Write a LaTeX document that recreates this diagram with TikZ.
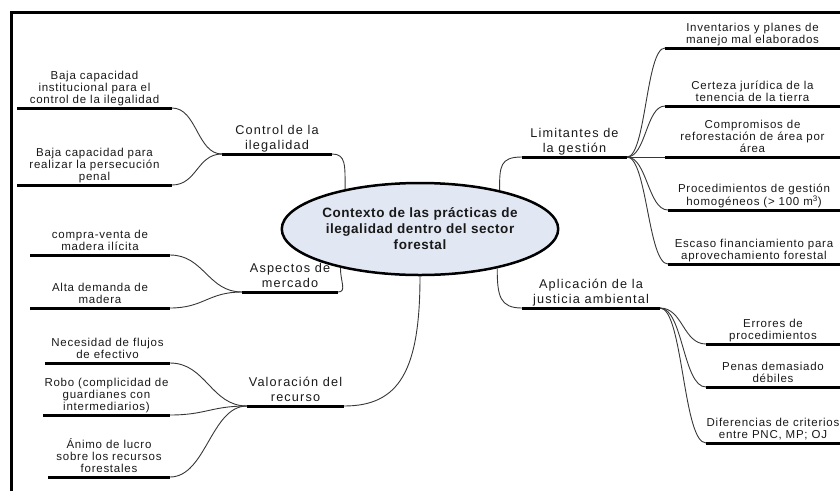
\documentclass[tikz,border=0pt]{standalone}
\usepackage{fontspec}
\setmainfont{Liberation Sans}[LetterSpace=9]
\newfontfamily\leaffont{Liberation Sans}[LetterSpace=6.5]
\newfontfamily\hubfont{Liberation Sans}[LetterSpace=4]
\usetikzlibrary{shapes.geometric}

\definecolor{hubfill}{RGB}{226,231,244}
\definecolor{ink}{RGB}{25,25,25}
\definecolor{wirecol}{RGB}{55,55,55}

\tikzset{
  lbl/.style={align=center, font=\leaffont\fontsize{11.5}{12}\selectfont, text=ink,
    inner xsep=0pt, inner ysep=0pt, anchor=south,
    execute at end node={\vphantom{gjp}}},
  lblmain/.style={lbl, font=\fontsize{12.7}{14.5}\selectfont},
  bar/.style={line width=3pt, black},
  wire/.style={draw=wirecol, line width=0.9pt},
  hub/.style={ellipse, draw=black, line width=2.5pt, fill=hubfill,
    minimum width=236pt, minimum height=92pt, inner sep=0pt, align=center,
    text=ink, font=\hubfont\bfseries\fontsize{13.5}{16}\selectfont},
}

% \branch[style]{name}{x left}{x right}{y of bar}{label}
\newcommand{\branch}[6][lbl]{%
  \coordinate (#2-l) at (#3,#5);
  \coordinate (#2-r) at (#4,#5);
  \node[#1] (#2) at ({(#3+#4)/2},{#5-2}) {#6};
  \draw[bar] (#2-l) -- (#2-r);
}

\begin{document}
\begin{tikzpicture}[x=1pt,y=-1pt]
\useasboundingbox (0,0) rectangle (840,491);

% frame
\draw[line width=2.8pt] (11.5,491) -- (11.5,12.5) -- (840,12.5);

% central topic
\node[hub] (hub) at (420,229) {Contexto de las prácticas de\\ilegalidad dentro del sector\\forestal};

% main branches
\branch[lblmain]{ctl}{222}{332}{154}{Control de la\\ilegalidad}
\branch[lblmain]{asp}{242}{338}{292}{Aspectos de\\mercado}
\branch[lblmain]{val}{247}{344}{406}{Valoración del\\recurso}
\branch[lblmain]{lim}{522}{627}{157}{Limitantes de\\la gestión}
\branch[lblmain]{apl}{522}{660}{308}{Aplicación de la\\justicia ambiental}

% left leaves
\branch{bc1}{17}{172}{108}{Baja capacidad\\institucional para el\\control de la ilegalidad}
\branch{bc2}{17}{172}{185}{Baja capacidad para\\realizar la persecución\\penal}
\branch{cvm}{30}{170}{255}{compra-venta de\\madera ilícita}
\branch{adm}{30}{170}{308}{Alta demanda de\\madera}
\branch{nfe}{45}{170}{363}{Necesidad de flujos\\de efectivo}
\branch{rob}{43}{170}{415}{Robo (complicidad de\\guardianes con\\intermediarios)}
\branch{ani}{48}{170}{477}{Ánimo de lucro\\sobre los recursos\\forestales}

% right leaves
\branch{inv}{665}{840}{48}{Inventarios y planes de\\manejo mal elaborados}
\branch{cer}{665}{840}{106}{Certeza jurídica de la\\tenencia de la tierra}
\branch{com}{665}{840}{157}{Compromisos de\\reforestación de área por\\área}
\branch{pro}{668}{840}{210}{Procedimientos de gestión\\homogéneos (> 100 m\textsuperscript{3})}
\branch{esc}{668}{840}{264}{Escaso financiamiento para\\aprovechamiento forestal}
\branch{err}{706}{840}{344}{Errores de\\procedimientos}
\branch{pen}{706}{840}{387}{Penas demasiado\\débiles}
\branch{dif}{706}{840}{443}{Diferencias de criterios\\entre PNC, MP; OJ}

% hub to main branches
\draw[wire] (ctl-r) .. controls +(14,0) and +(0,-24) .. (hub.152.5);
\draw[wire] (asp-r) .. controls +(9,0) and +(0,14) .. (hub.206.9);
\draw[wire] (hub.south) .. controls +(0,95) and +(55,0) .. (val-r);
\draw[wire] (hub.26.3) .. controls +(0,-24) and +(-22,0) .. (lim-l);
\draw[wire] (hub.333.7) .. controls +(0,28) and +(-22,0) .. (apl-l);

% main branches to leaves
\draw[wire] (bc1-r) .. controls +(25,0) and +(-25,0) .. (ctl-l);
\draw[wire] (bc2-r) .. controls +(25,0) and +(-25,0) .. (ctl-l);
\draw[wire] (cvm-r) .. controls +(34,0) and +(-34,0) .. (asp-l);
\draw[wire] (adm-r) .. controls +(34,0) and +(-34,0) .. (asp-l);
\draw[wire] (nfe-r) .. controls +(36,0) and +(-36,0) .. (val-l);
\draw[wire] (rob-r) .. controls +(36,0) and +(-36,0) .. (val-l);
\draw[wire] (ani-r) .. controls +(36,0) and +(-36,0) .. (val-l);

\draw[wire] (lim-r) .. controls +(19,0) and +(-19,0) .. (inv-l);
\draw[wire] (lim-r) .. controls +(19,0) and +(-19,0) .. (cer-l);
\draw[wire] (lim-r) -- (com-l);
\draw[wire] (lim-r) .. controls +(20,0) and +(-20,0) .. (pro-l);
\draw[wire] (lim-r) .. controls +(20,0) and +(-20,0) .. (esc-l);
\draw[wire] (apl-r) .. controls +(23,0) and +(-23,0) .. (err-l);
\draw[wire] (apl-r) .. controls +(23,0) and +(-23,0) .. (pen-l);
\draw[wire] (apl-r) .. controls +(23,0) and +(-23,0) .. (dif-l);
\end{tikzpicture}
\end{document}
